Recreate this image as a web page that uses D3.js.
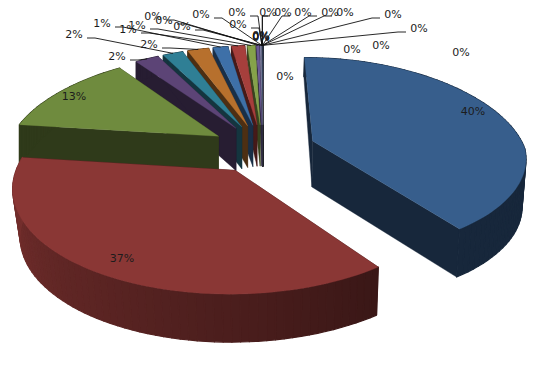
<!DOCTYPE html>
<html>
<head>
<meta charset="utf-8">
<script src="https://cdn.jsdelivr.net/npm/d3@7"></script>
<style>
body { margin:0; background:#fff; }
text { font-family:"DejaVu Sans"; font-size:11px; fill:#1c1c1c; text-anchor:middle; }
</style>
</head>
<body>
<svg id="chart" width="546" height="367"></svg>
<script>
// percent shares, clockwise from 12 o'clock
const values = [40,37,13,2.2,1.9,2,1.4,1.25,0.72,0.27,0.16,
  0.006,0.005,0.005,0.006,0.004,0.005,0.005,0.006,0.005,0.004,
  0.005,0.006,0.005,0.005,0.004,0.006,0.005,0.005,0.004];
const colors = ["#375e8c","#8a3735","#6f8b3e","#5c4476","#2f7f95","#b7702d",
  "#3e70a8","#a63f3c","#85a24a","#6a5a95","#7b7fa0","#4a6a90"];
const labelX = [473,122,74,117,74,149,102,128,137,
  153,164,182,201,237,238,261,261,261,261,268,283,303,330,345,393,419,285,352,381,461];
const labelY = [111,258,96,56,34,44,23,29,25,
  16,20,26,14,12,24,36,36,35,37,12,12,12,12,12,14,28,76,49,45,52];
// labels that sit without a leader line
const noLeader = [0,1,2,26,27,28,29];

const explode = 0.25, persp = 0.15, perspBack = 0.2;
const xs = d3.scaleLinear().domain([0,1]).range([263,475]);
const ys = d3.scaleLinear().domain([0,1]).range([148.5,246.5]);
const depth = V => V>=0 ? 48 : 48+27*V;
const shade = d3.scaleLinear().domain([144,277,278]).range([0.42,0.88,0.42]).clamp(true);

let svg = d3.select("#chart");
let path = d3.line();
let pie = d3.pie().sort(null).value(d=>d);
const rad = Math.PI/180;

function dark(c,f) {
  let r = d3.rgb(c);
  return d3.rgb(r.r*f,r.g*f,r.b*f).formatHex();
}
// project a disc point on the top face
function topPt(U,V) {
  let wx = 1-(V<0 ? perspBack : persp)*V;
  let wy = 1-persp*V;
  return [xs(U/wx),ys(V/wy)];
}
// same point on the floor of the pie, pulled in a bit
function lowPt(U,V) {
  let p = topPt(U,V);
  let k = U>0 ? 0.985 : (V<0 ? 1 : 0.97);
  return [xs(0)+(p[0]-xs(0))*k,p[1]+depth(V)];
}

let slices = pie(values).map((d,i)=>{
  let mid = (d.startAngle+d.endAngle)/2;
  return {i:i,a0:d.startAngle,a1:d.endAngle,mid:mid,
    ou:explode*Math.sin(mid),ov:-explode*Math.cos(mid),
    color:colors[i%colors.length]};
});
const rimUV = (s,a) => [s.ou+Math.sin(a),s.ov-Math.cos(a)];

// back slices first
slices.slice().sort((a,b)=>d3.ascending(a.ov,b.ov)).forEach(s=>{
  let g = svg.append("g");
  let n = Math.max(1,Math.ceil((s.a1-s.a0)/rad/2));
  let angles = d3.range(n+1).map(k=>s.a0+(s.a1-s.a0)*k/n);
  let rim = angles.map(a=>rimUV(s,a));
  let wallCol = dark(s.color,0.42);

  // radial walls
  [rim[0],rim[n]].forEach(e=>{
    g.append("path")
      .attr("d",path([topPt(s.ou,s.ov),topPt(e[0],e[1]),lowPt(e[0],e[1]),lowPt(s.ou,s.ov)])+"Z")
      .attr("fill",wallCol).attr("stroke",wallCol).attr("stroke-width",0.4);
  });
  // outer wall, strip by strip for the shading
  d3.range(n).forEach(k=>{
    let p = rim[k], q = rim[k+1];
    let c = dark(s.color,shade((angles[k]+angles[k+1])/2/rad));
    g.append("path")
      .attr("d",path([topPt(p[0],p[1]),topPt(q[0],q[1]),lowPt(q[0],q[1]),lowPt(p[0],p[1])])+"Z")
      .attr("fill",c).attr("stroke",c).attr("stroke-width",1.2).attr("stroke-linejoin","round");
  });
  // top face
  g.append("path")
    .attr("d",path([topPt(s.ou,s.ov)].concat(rim.map(e=>topPt(e[0],e[1]))))+"Z")
    .attr("fill",s.color).attr("stroke",s.color).attr("stroke-width",0.3);
});

// leader lines
slices.forEach(s=>{
  if (noLeader.includes(s.i)) return;
  let m = rimUV(s,s.mid), t = topPt(m[0],m[1]);
  let lx = labelX[s.i], ly = labelY[s.i]+4;
  let side = lx<t[0] ? 1 : -1;
  let x0 = lx+side*13;
  if ((t[0]-x0)*side<0) x0 = lx;
  let x1 = x0+side*Math.min(8,Math.abs(t[0]-x0));
  svg.append("path")
    .attr("d",path([[x0,ly],[x1,ly],t]))
    .attr("fill","none").attr("stroke","#111").attr("stroke-width",0.9);
});

svg.selectAll("text.lab")
  .data(values)
  .enter()
  .append("text")
  .attr("class","lab")
  .attr("x",(d,i)=>labelX[i])
  .attr("y",(d,i)=>labelY[i]+4)
  .text(d=>d3.format(".0%")(d/100));
</script>
</body>
</html>
